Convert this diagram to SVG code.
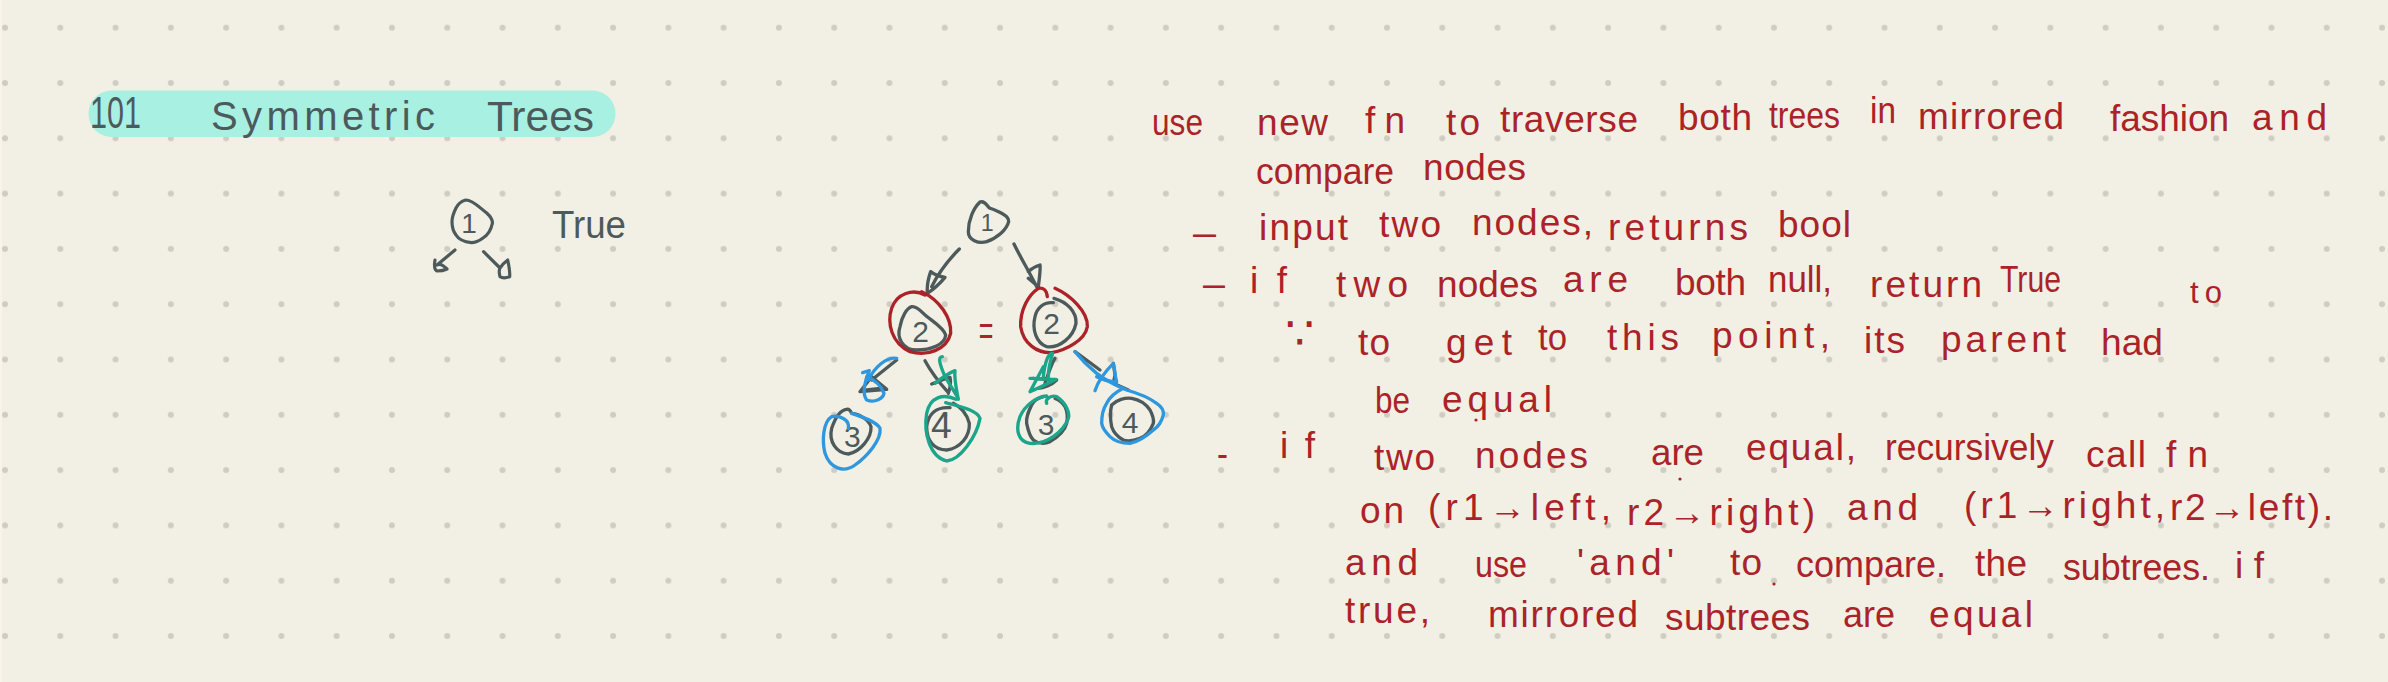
<svg xmlns="http://www.w3.org/2000/svg" width="2388" height="682" viewBox="0 0 2388 682">
<style>
text{font-family:"Liberation Sans","DejaVu Sans",sans-serif}
.r{fill:#ab2328;font-size:37px}
.g{fill:#4d5a5c}
.d{fill:#4d5a5c;font-size:90px;text-anchor:middle}
.k{fill:none;stroke:#4d5a5c;stroke-linecap:round;stroke-linejoin:round}
.ink{fill:none;stroke-linecap:round;stroke-linejoin:round;stroke-width:10}
.kk{stroke:#4d5a5c}.rd{stroke:#ab2328}.bl{stroke:#2f97de}.gr{stroke:#1ba58a}
</style>
<defs>
<pattern id="dots" x="-22.64" y="0.05" width="55.28" height="55.3" patternUnits="userSpaceOnUse"><circle cx="27.64" cy="27.65" r="3" fill="#cfcdc2"/></pattern>
</defs>
<rect width="2388" height="682" fill="#f2f0e4"/>
<rect width="2388" height="682" fill="url(#dots)"/>
<rect width="2" height="682" fill="#f8f4ec"/>
<g id="title">
<rect x="88.5" y="90.5" width="527" height="46.5" rx="23" fill="#a8f0e2"/>
<text class="g" font-size="44" x="90" y="128" textLength="51" lengthAdjust="spacingAndGlyphs">101</text>
<text class="g" font-size="40" x="211" y="130" textLength="224">Symmetric</text>
<text class="g" font-size="42" x="487" y="131" textLength="107" lengthAdjust="spacingAndGlyphs">Trees</text>
</g>
<g id="small-node-1">
<path class="k" stroke-width="3.2" d="M465.7,200 C473,200 480,208 486.7,213 C490,216 492.5,219 492.5,223 C491,230 488,235 483,238 C479,241 475,242.7 471.4,242.7 C465,242 459,240 456,235 C453,231 452,226 452,221.7 C452,216 454,212 456,208 C458,204 462,201 465.7,200Z"/>
<text class="g" font-size="28" text-anchor="middle" x="469" y="233">1</text>
</g>
<g id="small-connectors">
<path class="k" stroke-width="3.2" d="M455,250 L437,265 M435,260 C434,266 434,270 437,271 C441,271 445,270 447,269 C444,266 440,263 437,265"/>
<path class="k" stroke-width="3.2" d="M483.6,251.7 L500,268 C502,265 505,262 507.7,260 C509,266 510,272 509.7,276.7 C506,278 502,278 500,276.7 C499,273 499,270 500,268"/>
</g>
<text id="true-label" class="g" font-size="38" x="552" y="238" textLength="74" lengthAdjust="spacingAndGlyphs">True</text>
<g transform="translate(780,180) scale(.33333)">
<g id="connectors">
<path class="ink kk" d="M538,207 C510,235 480,270 455,320 M442,340 C440,315 445,295 452,275 C465,285 480,290 495,292 C480,310 465,325 442,340"/>
<path class="ink kk" d="M702,192 C720,230 745,270 770,320 M745,295 L775,320 C778,295 782,270 780,255 C770,258 755,265 745,275"/>
<path class="ink kk" d="M350,540 C325,560 300,580 275,600 M275,590 L320,628 L240,635 Z M260,630 L300,625"/>
<path class="ink kk" d="M435,542 C450,570 480,610 505,638 M455,612 C475,605 495,595 510,592 C515,610 510,625 505,640"/>
<path class="ink kk" d="M825,535 C815,550 805,580 795,610 M758,595 L830,600 C815,615 790,625 775,625"/>
<path class="ink kk" d="M885,515 L960,570 M1000,550 L1005,585 L1000,610 L1045,630"/>
</g>
<g id="node-root">
<path class="ink kk" d="M600,66 C612,62 618,72 628,84 C650,92 688,105 686,125 C680,150 650,175 620,185 C595,192 565,180 565,155 C565,120 580,85 600,66"/>
<text class="d" style="font-size:70px" x="622" y="153">1</text>
</g>
<g id="node-2-left">
<path class="ink kk" d="M395,380 C380,385 365,410 360,440 C350,470 365,510 410,510 C450,510 495,495 497,465 C490,440 450,420 430,400 C415,385 405,378 395,380"/>
<text class="d" x="422" y="485">2</text>
<path class="ink rd" d="M435,345 C400,325 350,340 335,385 C320,430 335,490 390,515 C440,530 500,510 512,460 C515,415 480,360 425,335"/>
</g>
<g id="node-2-right">
<path class="ink kk" d="M822,355 C860,365 890,395 888,430 C880,470 840,505 800,500 C770,490 755,450 765,410 C770,385 790,365 820,368"/>
<text class="d" x="815" y="463">2</text>
<path class="ink rd" d="M802,350 C800,330 790,322 775,325 C745,345 720,390 722,440 C730,490 770,520 815,518 C860,510 915,480 922,440 C925,395 870,345 825,325"/>
</g>
<text id="equals" fill="#ab2328" style="font-size:130px" x="596" y="496" textLength="44" lengthAdjust="spacingAndGlyphs">=</text>
<g id="node-3-left">
<path class="ink kk" d="M200,688 C180,690 165,715 155,745 C145,785 170,820 205,822 C240,815 275,775 273,740 C265,715 230,700 215,700 C210,690 205,686 200,688"/>
<text class="d" x="217" y="800">3</text>
<path class="ink bl" d="M205,745 C210,720 180,705 155,710 C130,725 125,780 135,820 C150,865 190,880 225,855 C260,830 305,780 300,745 C290,725 245,710 215,700"/>
</g>
<g id="node-4-left">
<path class="ink kk" d="M510,683 C470,680 445,700 440,740 C440,780 460,810 500,810 C540,805 570,770 568,730 C560,700 540,680 520,670"/>
<text class="d" style="font-size:112px" x="484" y="775">4</text>
<path class="ink gr" d="M528,658 C490,640 450,650 440,700 C430,760 450,830 500,843 C540,840 590,770 600,715 C590,690 540,680 497,668"/>
</g>
<g id="node-3-right">
<path class="ink kk" d="M790,650 C770,655 760,665 755,675 C745,695 738,710 740,730 C745,755 750,770 760,780 C775,792 795,792 810,785 C835,770 855,750 860,730 C864,710 862,695 855,680 C848,668 838,660 825,655"/>
<text class="d" x="798" y="765">3</text>
<path class="ink gr" d="M800,670 C795,655 815,645 830,650 C860,670 870,700 865,715 C850,755 800,795 750,790 C715,785 705,750 720,710 C735,675 770,650 800,648"/>
</g>
<g id="node-4-right">
<path class="ink kk" d="M1055,655 C1085,660 1100,675 1110,690 C1118,705 1122,718 1120,730 C1112,750 1098,768 1080,775 C1062,782 1045,785 1030,780 C1012,770 1000,755 995,740 C990,715 990,695 995,675 C1010,660 1035,652 1055,655"/>
<text class="d" x="1050" y="760">4</text>
<path class="ink bl" d="M885,515 C905,540 925,560 950,580 C975,600 1005,615 1040,630 C1075,640 1110,655 1130,670 C1145,680 1152,692 1150,705 C1145,725 1135,740 1120,750 C1100,768 1075,785 1050,790 C1025,790 1005,785 990,770 C975,755 967,745 965,730 C965,705 970,685 980,670 C990,650 1010,635 1030,625"/>
</g>
<g id="highlight-strokes">
<path class="ink bl" d="M350,535 C320,530 285,560 265,600 M248,578 L268,572 C255,600 245,640 260,660 C285,670 310,655 312,640 C305,620 285,600 260,590"/>
<path class="ink gr" d="M487,530 C472,530 480,555 495,590 L535,655 M465,610 C490,590 505,580 525,572 C522,600 530,630 535,658"/>
<path class="ink gr" d="M805,590 C805,560 815,530 818,520 C805,518 795,545 790,590 M750,595 L828,598 C805,610 775,625 750,635 L790,560"/>
<path class="ink bl" d="M945,632 C955,600 980,570 1000,550 C1005,570 1005,590 1010,605 C990,605 970,600 950,590"/>
</g>
</g>
<g id="notes">
<text class="r" x="1152" y="135" textLength="51" lengthAdjust="spacingAndGlyphs">use</text>
<text class="r" x="1257" y="135" textLength="71">new</text>
<text class="r" x="1365" y="133" textLength="40">fn</text>
<text class="r" x="1446" y="135" textLength="34">to</text>
<text class="r" x="1500" y="132" textLength="138">traverse</text>
<text class="r" x="1678" y="130" textLength="74">both</text>
<text class="r" x="1769" y="128" textLength="71" lengthAdjust="spacingAndGlyphs">trees</text>
<text class="r" x="1870" y="123" textLength="26" lengthAdjust="spacingAndGlyphs">in</text>
<text class="r" x="1918" y="129" textLength="146">mirrored</text>
<text class="r" x="2110" y="131" textLength="119">fashion</text>
<text class="r" x="2252" y="130" textLength="75">and</text>
<text class="r" x="1256" y="184" textLength="138" lengthAdjust="spacingAndGlyphs">compare</text>
<text class="r" x="1423" y="180" textLength="103">nodes</text>
<text class="r" x="1193" y="245" textLength="23" lengthAdjust="spacingAndGlyphs">–</text>
<text class="r" x="1259" y="240" textLength="89">input</text>
<text class="r" x="1379" y="237" textLength="62">two</text>
<text class="r" x="1472" y="235" textLength="121">nodes,</text>
<text class="r" x="1608" y="240" textLength="140">returns</text>
<text class="r" x="1778" y="237" textLength="73">bool</text>
<text class="r" x="1203" y="296" textLength="22" lengthAdjust="spacingAndGlyphs">–</text>
<text class="r" x="1250" y="293" textLength="37">if</text>
<text class="r" x="1336" y="297" textLength="72">two</text>
<text class="r" x="1437" y="297" textLength="101">nodes</text>
<text class="r" x="1563" y="292" textLength="65">are</text>
<text class="r" x="1675" y="295" textLength="71">both</text>
<text class="r" x="1768" y="292" textLength="64" lengthAdjust="spacingAndGlyphs">null,</text>
<text class="r" x="1870" y="297" textLength="112">return</text>
<text class="r" x="2000" y="292" textLength="61" lengthAdjust="spacingAndGlyphs">True</text>
<text class="r" style="font-size:31px" x="2190" y="303" textLength="32">to</text>
<text class="r" style="font-family:'DejaVu Sans',sans-serif;font-size:46px" x="1285" y="349">∵</text>
<text class="r" x="1358" y="355" textLength="32">to</text>
<text class="r" x="1446" y="355" textLength="66">get</text>
<text class="r" x="1538" y="350" textLength="29" lengthAdjust="spacingAndGlyphs">to</text>
<text class="r" x="1607" y="350" textLength="72">this</text>
<text class="r" x="1712" y="348" textLength="118">point,</text>
<text class="r" x="1864" y="353" textLength="41">its</text>
<text class="r" x="1941" y="352" textLength="125">parent</text>
<text class="r" x="2101" y="355" textLength="62" lengthAdjust="spacingAndGlyphs">had</text>
<text class="r" x="1375" y="413" textLength="35" lengthAdjust="spacingAndGlyphs">be</text>
<text class="r" x="1442" y="412" textLength="110">equal</text>
<text class="r" x="1217" y="466" textLength="11" lengthAdjust="spacingAndGlyphs">-</text>
<text class="r" x="1280" y="458" textLength="35">if</text>
<text class="r" x="1374" y="470" textLength="61">two</text>
<text class="r" x="1475" y="468" textLength="113">nodes</text>
<text class="r" x="1651" y="465" textLength="53" lengthAdjust="spacingAndGlyphs">are</text>
<text class="r" x="1746" y="460" textLength="110">equal,</text>
<text class="r" x="1885" y="460" textLength="169" lengthAdjust="spacingAndGlyphs">recursively</text>
<text class="r" x="2086" y="467" textLength="60">call</text>
<text class="r" x="2166" y="467" textLength="42">fn</text>
<text class="r" x="1360" y="523" textLength="44">on</text>
<text class="r" x="1428" y="520" textLength="183">(r1→left,</text>
<text class="r" x="1627" y="525" textLength="188">r2→right)</text>
<text class="r" x="1847" y="520" textLength="71">and</text>
<text class="r" x="1964" y="518" textLength="201">(r1→right,</text>
<text class="r" x="2170" y="520" textLength="163">r2→left).</text>
<text class="r" x="1345" y="575" textLength="73">and</text>
<text class="r" x="1475" y="577" textLength="52" lengthAdjust="spacingAndGlyphs">use</text>
<text class="r" x="1577" y="575" textLength="97">'and'</text>
<text class="r" x="1730" y="575" textLength="32">to</text>
<text class="r" x="1796" y="577" textLength="150" lengthAdjust="spacingAndGlyphs">compare.</text>
<text class="r" x="1975" y="576" textLength="52">the</text>
<text class="r" x="2063" y="580" textLength="147" lengthAdjust="spacingAndGlyphs">subtrees.</text>
<text class="r" x="2235" y="578" textLength="29">if</text>
<text class="r" x="1345" y="623" textLength="85">true,</text>
<text class="r" x="1488" y="627" textLength="150">mirrored</text>
<text class="r" x="1665" y="630" textLength="145">subtrees</text>
<text class="r" x="1843" y="627" textLength="52" lengthAdjust="spacingAndGlyphs">are</text>
<text class="r" x="1929" y="627" textLength="104">equal</text>
</g>
<g id="specks" fill="#ab2328">
<circle cx="1680" cy="479" r="1.6"/>
<circle cx="1774" cy="584" r="1.6"/>
<circle cx="1476" cy="420" r="1.6"/>
</g>
</svg>
